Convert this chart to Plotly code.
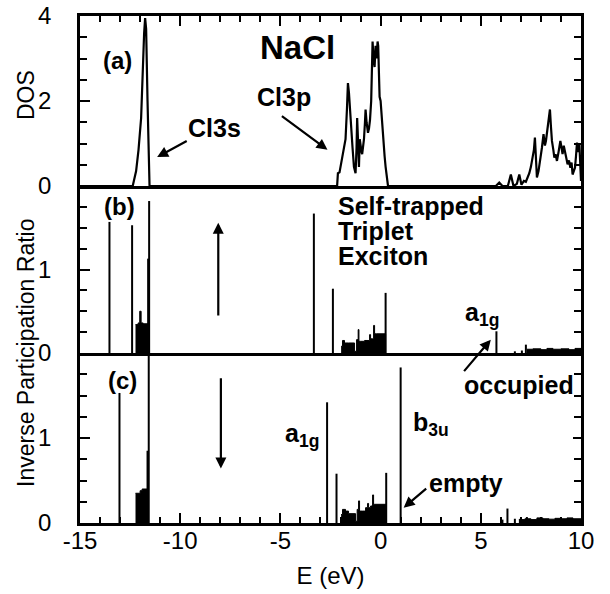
import plotly.graph_objects as go
from plotly.subplots import make_subplots

# ---------------- data ----------------
# (a) DOS
dos_s_E = [-15.0, -12.37, -12.2, -12.08, -11.95, -11.87, -11.8, -11.75, -11.7, -11.63, -11.53]
dos_s_val = [0, 0, 0.35, 0.85, 1.6, 2.8, 3.6, 3.95, 3.7, 2.0, 0]

dos_p_E = [-2.17, -2.13, -2.05, -2.0, -1.9, -1.8, -1.75, -1.68, -1.63, -1.58,
           -1.53, -1.47, -1.4, -1.33, -1.25, -1.2, -1.17, -1.12, -1.08, -1.04,
           -1.0, -0.95, -0.92, -0.87, -0.83, -0.78, -0.75, -0.7, -0.63, -0.58,
           -0.53, -0.47, -0.43, -0.4, -0.35, -0.3, -0.25, -0.2, -0.15, -0.12,
           -0.08, -0.05, 0.0, 0.03, 0.08, 0.13, 0.2, 0.25, 0.37]
dos_p_val = [0, 0.3, 0.32, 0.45, 0.8, 1.0, 1.1, 1.8, 2.42, 2.2,
             1.9, 1.45, 0.9, 0.45, 0.3, 0.9, 1.6, 1.0, 0.45, 1.1,
             0.9, 0.8, 0.75, 0.95, 1.1, 1.5, 1.8, 1.5, 1.25, 1.35,
             1.55, 2.0, 2.6, 3.4, 3.0, 2.8, 3.3, 3.0, 3.4, 3.3,
             2.6, 2.1, 2.0, 1.8, 1.3, 0.95, 0.7, 0.45, 0]

dos_c_E = [5.75, 5.92, 6.08, 6.35, 6.5, 6.63, 6.8, 6.92, 7.03, 7.15,
           7.25, 7.35, 7.42, 7.5, 7.58, 7.65, 7.7, 7.75, 7.8, 7.88,
           7.97, 8.05, 8.13, 8.2, 8.25, 8.33, 8.4, 8.45, 8.5, 8.55,
           8.62, 8.67, 8.73, 8.8, 8.88, 8.97, 9.03, 9.08, 9.14, 9.2,
           9.27, 9.33, 9.4, 9.47, 9.53, 9.58, 9.64, 9.7, 9.75, 9.8,
           9.86, 9.92, 10.0]
dos_c_val = [0, 0.08, 0, 0, 0.27, 0, 0.05, 0.27, 0.03, 0.12,
             0.1, 0.2, 0.3, 0.45, 0.66, 0.85, 1.14, 0.6, 0.2, 0.35,
             0.6, 0.9, 1.22, 0.95, 1.06, 1.37, 1.5, 1.8, 1.4, 1.06,
             0.85, 0.67, 0.75, 0.59, 0.8, 1.06, 0.9, 0.75, 0.95, 0.83,
             0.65, 0.51, 0.6, 0.43, 0.55, 0.27, 0.35, 0.43, 0.7, 1.02,
             0.8, 0.98, 0.12]

# (b) IPR, self-trapped triplet exciton, occupied
ipr_b_stick_E = [-13.53, -12.4, -11.6, -11.55, -3.33, -2.38, 0.25, 5.78, 6.7, 7.05, 7.25]
ipr_b_stick_val = [1.57, 1.53, 1.13, 1.82, 1.67, 0.77, 0.72, 0.26, 0.02, 0.03, 0.1]
ipr_b_blk_s_E = [-12.23, -12.1, -12.02, -11.95, -11.85, -11.6]
ipr_b_blk_s_val = [0.34, 0.36, 0.5, 0.36, 0.35, 0]
ipr_b_blk_v_E = [-1.97, -1.9, -1.8, -1.6, -1.3, -1.2, -1.12, -1.08, -1.0, -0.8,
                 -0.55, -0.5, -0.4, -0.35, -0.3, -0.2, 0.25]
ipr_b_blk_v_val = [0.08, 0.15, 0.12, 0.12, 0.02, 0.16, 0.28, 0.14, 0.14, 0.15,
                   0.22, 0.17, 0.17, 0.33, 0.23, 0.23, 0]
ipr_b_blk_c_E = [7.3, 7.6, 8.0, 8.3, 8.6, 9.0, 9.4, 9.7, 10.0]
ipr_b_blk_c_val = [0.045, 0.05, 0.04, 0.055, 0.045, 0.05, 0.04, 0.055, 0.05]

# (c) IPR, empty
ipr_c_stick_E = [-13.03, -11.63, -11.57, -2.67, -2.2, 0.28, 1.0, 6.08, 6.33, 6.7, 7.0, 7.3]
ipr_c_stick_val = [1.53, 0.85, 2.4, 1.42, 0.58, 0.59, 1.83, 0.04, 0.17, 0.05, 0.06, 0.07]
ipr_c_blk_s_E = [-12.23, -12.0, -11.9, -11.63]
ipr_c_blk_s_val = [0.35, 0.38, 0.4, 0]
ipr_c_blk_v_E = [-1.97, -1.9, -1.75, -1.6, -1.25, -1.17, -1.1, -1.05, -0.9, -0.75,
                 -0.65, -0.6, -0.5, -0.4, -0.35, -0.3, 0.28]
ipr_c_blk_v_val = [0.1, 0.16, 0.14, 0.11, 0.02, 0.16, 0.26, 0.14, 0.14, 0.18,
                   0.23, 0.18, 0.2, 0.33, 0.22, 0.22, 0]
ipr_c_blk_c_E = [6.9, 7.2, 7.5, 7.8, 8.1, 8.4, 8.7, 9.0, 9.3, 9.6, 10.0]
ipr_c_blk_c_val = [0.04, 0.05, 0.04, 0.06, 0.05, 0.045, 0.055, 0.05, 0.06, 0.05, 0.05]

x_ticks = [-15, -10, -5, 0, 5, 10]
x_ticktext = ["-15", "-10", "-5", "0", "5", "10"]
x_minor = [v for v in range(-15, 11) if v % 5 != 0]
ya_ticks = [0, 2, 4]
ya_minor = [0.5, 1, 1.5, 2.5, 3, 3.5]
ybc_ticks = [0, 1]
ybc_minor = [0.25, 0.5, 0.75, 1.25, 1.5, 1.75]

# ---------------- figure ----------------
FONT = "Liberation Sans, Arial, Helvetica, sans-serif"
fig = make_subplots(rows=3, cols=1, shared_xaxes=True, vertical_spacing=0,
                    row_heights=[170, 167, 170])

LINE = dict(color="black", width=2)


def sticks(E, v):
    xs, ys = [], []
    for e, h in zip(E, v):
        xs += [e, e, None]
        ys += [0, h, None]
    return xs, ys


# DOS
fig.add_trace(go.Scatter(x=dos_s_E + dos_p_E + dos_c_E,
                         y=dos_s_val + dos_p_val + dos_c_val,
                         mode="lines", line=dict(color="black", width=2.2)), row=1, col=1)

for row, stE, stV, blocks in [
    (2, ipr_b_stick_E, ipr_b_stick_val,
     [(ipr_b_blk_s_E, ipr_b_blk_s_val), (ipr_b_blk_v_E, ipr_b_blk_v_val),
      (ipr_b_blk_c_E, ipr_b_blk_c_val)]),
    (3, ipr_c_stick_E, ipr_c_stick_val,
     [(ipr_c_blk_s_E, ipr_c_blk_s_val), (ipr_c_blk_v_E, ipr_c_blk_v_val),
      (ipr_c_blk_c_E, ipr_c_blk_c_val)]),
]:
    for bE, bV in blocks:
        fig.add_trace(go.Scatter(x=bE, y=bV, mode="lines",
                                 line=dict(color="black", width=1, shape="hv"),
                                 fill="tozeroy", fillcolor="black"), row=row, col=1)
    xs, ys = sticks(stE, stV)
    fig.add_trace(go.Scatter(x=xs, y=ys, mode="lines", line=LINE), row=row, col=1)

# empty traces attached to right-hand tick axes
for xa, ya in [("x", "y4"), ("x2", "y5"), ("x3", "y6")]:
    fig.add_trace(go.Scatter(x=[None], y=[None], xaxis=xa, yaxis=ya, mode="lines"))

fig.update_traces(showlegend=False, hoverinfo="skip")

axis_common = dict(showgrid=False, zeroline=False, showline=True, linecolor="black",
                   linewidth=2.5, tickcolor="black", tickwidth=2,
                   tickfont=dict(family=FONT, size=24, color="black"))
MINOR_X = dict(ticks="inside", ticklen=6, tickvals=x_minor, tickcolor="black", tickwidth=2)

fig.update_xaxes(range=[-15, 10], **axis_common)
fig.update_xaxes(row=1, col=1, side="top", ticks="inside", ticklen=10, tickvals=x_ticks,
                 showticklabels=False, mirror=True, minor=MINOR_X)
fig.update_xaxes(row=2, col=1, ticks="", showticklabels=False, mirror=False)
fig.update_xaxes(row=3, col=1, ticks="inside", ticklen=10, tickvals=x_ticks, ticktext=x_ticktext,
                 mirror=False, showticklabels=True, ticklabelstandoff=-6, minor=MINOR_X,
                 title=dict(text="E (eV)", font=dict(family=FONT, size=24, color="black"), standoff=15))

fig.update_yaxes(**axis_common)
fig.update_yaxes(row=1, col=1, range=[0, 4], tickvals=ya_ticks, ticks="inside", ticklen=10,
                 mirror=True, ticklabelstandoff=21,
                 minor=dict(ticks="inside", ticklen=7, tickvals=ya_minor, tickcolor="black", tickwidth=2))
for r in (2, 3):
    fig.update_yaxes(row=r, col=1, range=[0, 2], tickvals=ybc_ticks, ticks="inside", ticklen=10,
                     mirror=True, ticklabelstandoff=21,
                     minor=dict(ticks="inside", ticklen=7, tickvals=ybc_minor, tickcolor="black", tickwidth=2))

RIGHT = dict(side="right", showline=False, showgrid=False, zeroline=False, showticklabels=False,
             ticks="inside", ticklen=8, tickcolor="black", tickwidth=2)
fig.update_layout(
    yaxis4=dict(overlaying="y", anchor="x", range=[0, 4], tickvals=ya_ticks,
                minor=dict(ticks="inside", ticklen=7, tickvals=ya_minor, tickcolor="black", tickwidth=2),
                **RIGHT),
    yaxis5=dict(overlaying="y2", anchor="x2", range=[0, 2], tickvals=ybc_ticks,
                minor=dict(ticks="inside", ticklen=7, tickvals=ybc_minor, tickcolor="black", tickwidth=2),
                **RIGHT),
    yaxis6=dict(overlaying="y3", anchor="x3", range=[0, 2], tickvals=ybc_ticks,
                minor=dict(ticks="inside", ticklen=7, tickvals=ybc_minor, tickcolor="black", tickwidth=2),
                **RIGHT),
)

fig.update_layout(width=610, height=594, margin=dict(l=80, r=29, t=16, b=71, autoexpand=False),
                  paper_bgcolor="white", plot_bgcolor="white",
                  font=dict(family=FONT, color="black"))


def txt(text, x, y, row, size=25, xanchor="center", yanchor="middle"):
    xr = "x" if row == 1 else f"x{row}"
    yr = "y" if row == 1 else f"y{row}"
    fig.add_annotation(text=f"<b>{text}</b>", x=x, y=y, xref=xr, yref=yr, showarrow=False,
                       xanchor=xanchor, yanchor=yanchor,
                       font=dict(family=FONT, size=size, color="black"))


def arrow(x0, y0, x1, y1, row):
    xr = "x" if row == 1 else f"x{row}"
    yr = "y" if row == 1 else f"y{row}"
    fig.add_annotation(x=x1, y=y1, ax=x0, ay=y0, xref=xr, yref=yr, axref=xr, ayref=yr,
                       text="", showarrow=True, arrowhead=2, arrowsize=1.0, arrowwidth=2.2,
                       arrowcolor="black")


# panel (a)
txt("(a)", -13.15, 2.96, 1, size=24)
txt("NaCl", -4.15, 3.27, 1, size=33)
txt("Cl3s", -8.3, 1.36, 1)
arrow(-9.6, 1.08, -11.15, 0.68, 1)
txt("Cl3p", -4.8, 2.09, 1)
arrow(-5.0, 1.67, -2.65, 0.85, 1)

# panel (b)
txt("(b)", -13.05, 1.75, 2, size=24)
arrow(-8.1, 0.43, -8.1, 1.56, 2)
txt("Self-trapped", -2.25, 1.76, 2, xanchor="left")
txt("Triplet", -2.25, 1.46, 2, xanchor="left")
txt("Exciton", -2.25, 1.16, 2, xanchor="left")
txt("a<sub>1g</sub>", 4.1, 0.47, 2, xanchor="left")

# arrow from "occupied" up to the a1g level of panel (b)
fig.add_annotation(x=5.5, y=0.16, xref="x2", yref="y2", ax=-28, ay=33, text="",
                   showarrow=True, arrowhead=2, arrowsize=1.0, arrowwidth=2.2, arrowcolor="black")

# panel (c)
txt("occupied", 6.9, 1.62, 3)
txt("(c)", -12.9, 1.68, 3, size=24)
arrow(-7.97, 1.72, -7.97, 0.64, 3)
txt("a<sub>1g</sub>", -4.85, 1.03, 3, xanchor="left")
txt("b<sub>3u</sub>", 1.5, 1.16, 3, xanchor="left")
txt("empty", 4.25, 0.47, 3)
arrow(2.35, 0.42, 1.15, 0.18, 3)

# y titles (positions given in pixels, converted to paper coords)
plot_w = 610 - 80 - 29
plot_h = 594 - 16 - 71
for label, px, py in [("DOS", 26, 95), ("Inverse Participation Ratio", 26, 353)]:
    fig.add_annotation(text=label, x=(px - 80) / plot_w, y=1 - (py - 16) / plot_h,
                       xref="paper", yref="paper", showarrow=False, textangle=-90,
                       xanchor="center", yanchor="middle",
                       font=dict(family=FONT, size=23, color="black"))

fig.write_html("out.html")
